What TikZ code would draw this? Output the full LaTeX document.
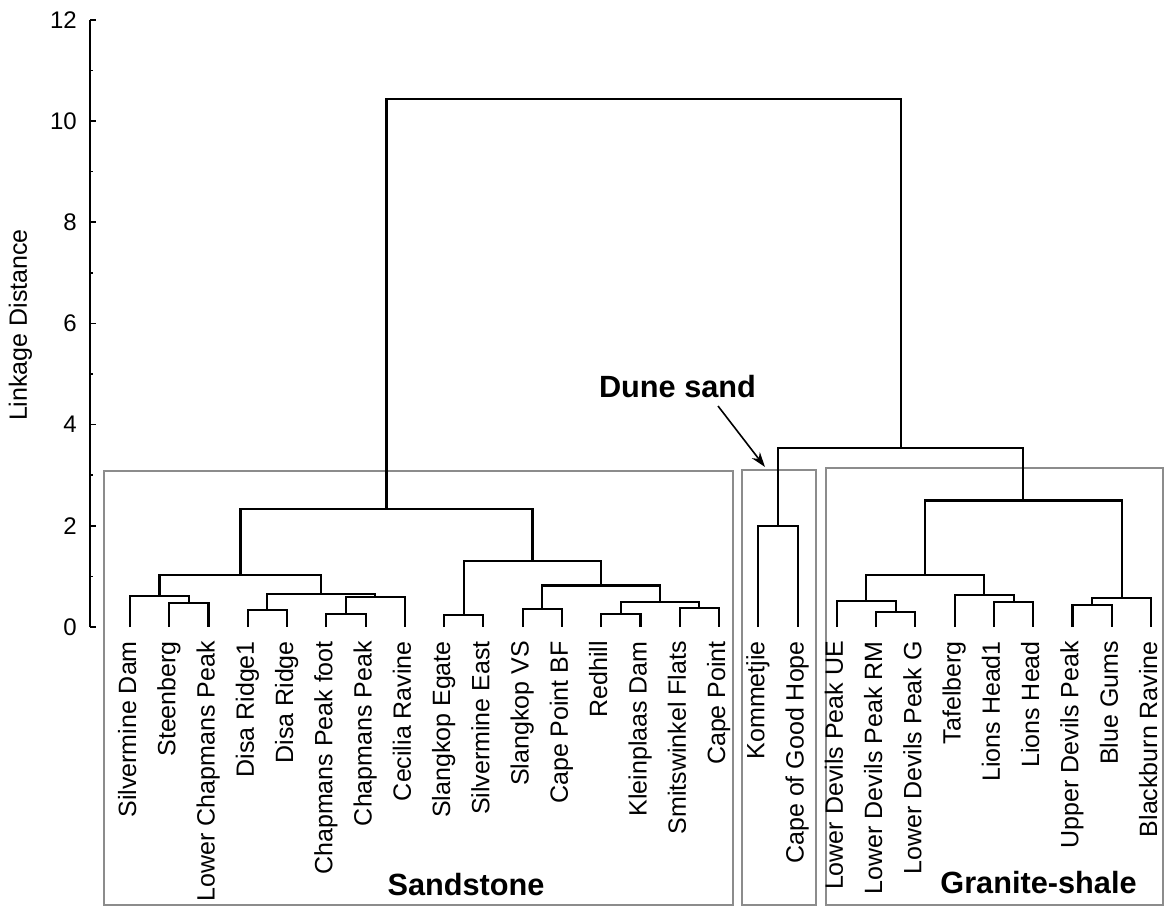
\documentclass[tikz,border=0pt]{standalone}
\usepackage{fontspec}
\setmainfont{Liberation Sans}
\usetikzlibrary{calc,arrows.meta}

% height (linkage distance) -> vertical position
\newcommand\hpos[1]{627-50.6*#1}

% join two clusters at a given linkage distance
\newcommand\dmerge[4]{%
  \pgfmathsetmacro\mergey{627-50.6*#4}%
  \coordinate (#1-h) at (0,\mergey);
  \path ($(#2)!.5!(#3)$) coordinate (#1-mid);
  \coordinate (#1) at (#1-mid |- #1-h);
  \draw[tree] (#2) |- (#1) -| (#3);
}

\begin{document}
\begin{tikzpicture}[x=1pt,y=-1pt,
  tree/.style={line width=2.1pt, black},
  groupbox/.style={line width=2pt, draw=black!45},
  axisline/.style={line width=1.6pt, black},
  leaflabel/.style={rotate=90, anchor=east, inner sep=0pt,
    font=\fontsize{25}{30}\selectfont, text height=17.5pt, text depth=5.5pt},
  ticklabel/.style={anchor=east, inner sep=0pt, font=\fontsize{24}{28}\selectfont},
  grouplabel/.style={inner sep=0pt, anchor=base, font=\fontsize{30.7}{36}\selectfont\bfseries}]

\useasboundingbox (0,0) rectangle (1166,906);

% ---- group boxes ----
\draw[groupbox] (104,471) rectangle (733,905);
\draw[groupbox] (742,470) rectangle (815.5,905);
\draw[groupbox] (826,468) rectangle (1163,905);

% ---- vertical axis ----
\draw[axisline] (90,{\hpos{12}}) -- (90,{\hpos{0}});
\foreach \v in {0,...,12} {
  \pgfmathsetmacro\ty{\hpos{\v}}
  \ifodd\v
    \draw[axisline] (90,\ty) -- (93,\ty);
  \else
    \draw[axisline] (90,\ty) -- (95.5,\ty);
    \node[ticklabel] (y\v) at (77,\ty) {\v};
  \fi
}
\node[rotate=90, inner sep=0pt, font=\fontsize{25}{30}\selectfont,
  text height=17.5pt, text depth=5.5pt] (ytitle) at (21,325) {Linkage Distance};

% ---- leaves ----
\foreach \nm [count=\i from 0] in {Silvermine Dam, Steenberg, Lower Chapmans Peak,
  Disa Ridge1, Disa Ridge, Chapmans Peak foot, Chapmans Peak, Cecilia Ravine,
  Slangkop Egate, Silvermine East, Slangkop VS, Cape Point BF, Redhill,
  Kleinplaas Dam, Smitswinkel Flats, Cape Point, Kommetjie, Cape of Good Hope,
  Lower Devils Peak UE, Lower Devils Peak RM, Lower Devils Peak G, Tafelberg,
  Lions Head1, Lions Head, Upper Devils Peak, Blue Gums, Blackburn Ravine} {
  \coordinate (l\i) at ({130+39.27*\i},627);
  \node[leaflabel] (t\i) at ({130+39.27*\i},641) {\nm};
}

% ---- sandstone cluster ----
\dmerge{s12}{l1}{l2}{0.47}
\dmerge{s012}{l0}{s12}{0.62}
\dmerge{s34}{l3}{l4}{0.34}
\dmerge{s56}{l5}{l6}{0.26}
\dmerge{s567}{s56}{l7}{0.59}
\dmerge{s37}{s34}{s567}{0.65}
\dmerge{s07}{s012}{s37}{1.03}
\dmerge{s89}{l8}{l9}{0.24}
\dmerge{sAB}{l10}{l11}{0.36}
\dmerge{sCD}{l12}{l13}{0.26}
\dmerge{sEF}{l14}{l15}{0.38}
\dmerge{sCF}{sCD}{sEF}{0.49}
\dmerge{sAF}{sAB}{sCF}{0.82}
\dmerge{s8F}{s89}{sAF}{1.30}
\dmerge{sand}{s07}{s8F}{2.33}

% ---- dune sand cluster ----
\dmerge{dune}{l16}{l17}{2.00}

% ---- granite-shale cluster ----
\dmerge{g1920}{l19}{l20}{0.30}
\dmerge{g1820}{l18}{g1920}{0.51}
\dmerge{g2223}{l22}{l23}{0.49}
\dmerge{g2123}{l21}{g2223}{0.64}
\dmerge{g1823}{g1820}{g2123}{1.03}
\dmerge{g2425}{l24}{l25}{0.43}
\dmerge{g2426}{g2425}{l26}{0.57}
\dmerge{gran}{g1823}{g2426}{2.50}

% ---- upper joins ----
\dmerge{dg}{dune}{gran}{3.53}
\dmerge{root}{sand}{dg}{10.43}

% ---- group names ----
\node[grouplabel] (sandname) at (466,895) {Sandstone};
\node[grouplabel] (granname) at (1038.5,893) {Granite-shale};
\node[grouplabel] (dunename) at (677.5,397) {Dune sand};
\coordinate (duneTail) at (718,406);
\coordinate (duneTip) at (765,467);
\draw[line width=1.6pt, -{Stealth[length=15pt,width=10pt]}] (duneTail) -- (duneTip);

\end{tikzpicture}
\end{document}
